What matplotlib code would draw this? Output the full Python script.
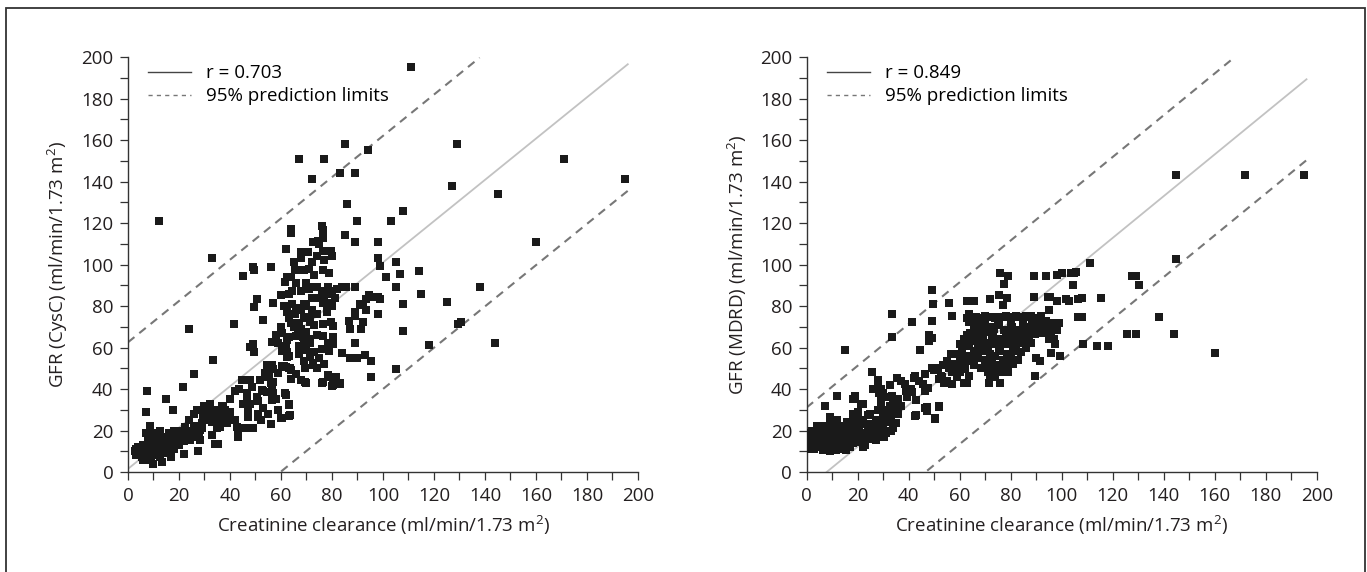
import numpy as np
import matplotlib
matplotlib.use('Agg')
import matplotlib.pyplot as plt
from matplotlib.lines import Line2D
from matplotlib.patches import Rectangle

plt.rcParams['font.family'] = ['Open Sans', 'DejaVu Sans']
plt.rcParams['mathtext.default'] = 'regular'

# --- data (creatinine clearance, GFR) ---
cysc_pts = np.array([
    (111, 195), (12, 121), (129, 158), (171, 151), (195, 141), (145, 134), (127, 138), (108, 126),
    (103, 121), (90, 121), (160, 111), (138, 89), (125, 82), (115, 86), (114, 97), (144, 62),
    (118, 61), (129.5, 71.5), (130.5, 72.5), (105, 49.5), (108, 81), (108, 68), (105, 101),
    (106.5, 95.5), (105, 89), (101, 94), (99, 99.5), (98, 103), (98, 111), (98, 76),
    (94, 155), (89, 144), (85, 158), (83, 144), (77, 151), (67, 151), (72, 141), (86, 129),
    (85, 114), (89, 111),
    (33, 103), (24, 69), (41.5, 71.5), (26, 47), (7, 29), (7.5, 39), (15, 35), (17.5, 30),
    (21.5, 41), (22, 8.5), (27.5, 10), (17, 7), (43, 17), (33.5, 54), (34, 13.5), (35.5, 13.5),
    (51, 26.5), (51, 34), (46.5, 21), (56, 23), (60, 26), (63, 27), (62, 37), (63, 32.5),
    (95.5, 46), (95.5, 53.5), (93, 56.5), (90, 55), (87, 55), (84, 57.5), (83, 42.5), (80, 41.5),
    (78.5, 46), (76, 43), (70, 43), (68, 44.5),
    (89, 62), (91.5, 69), (92, 72.5), (89, 75), (86.5, 73), (87, 69), (89, 77),
    (92, 80.5), (93.5, 83.5), (96, 84.5), (98, 84.5), (99, 83.5), (94.5, 85.5), (93.5, 78), (91, 81),
    (84, 89), (85.5, 89), (89, 89),
    (78.5, 89), (76, 87), (78.5, 86), (76.5, 81.5), (79, 81.5), (80, 80), (78, 77), (79.5, 72.5),
    (80.5, 70.5),
    (76.5, 106.5), (79.5, 106.5), (75, 110), (76.5, 113), (76.5, 116.5), (76, 118.5), (74.5, 111.5),
    (72.5, 111), (70.5, 106), (68, 106), (67, 97.5), (69, 97.5), (76.5, 97.5), (79, 96), (64, 115),
    (64, 117), (62, 107.5),
    (56, 99), (49, 99), (49.5, 97.5), (45, 94.5), (50.5, 83.5), (49.5, 79.5), (53, 73.5),
    (57, 81.5), (60, 85.5), (61.5, 91.5), (62.5, 94), (64, 94), (65.5, 97.5), (64.5, 87), (68, 87),
    (71, 88), (71.5, 89), (74, 89), (64.5, 81), (69, 81), (65.5, 76), (62.5, 77), (63, 74), (64, 72),
    (69, 74), (71, 74.5), (71.5, 72.5), (68, 69), (66.5, 68.5), (66, 65.5), (63, 65), (70, 67.5),
    (71, 64), (71.5, 62), (69, 61.5), (67, 60.5), (62, 60.5), (60.5, 58.5), (63, 56), (67, 57),
    (69, 53.5), (69.5, 50), (72.5, 51.5), (60.5, 51), (62, 50.5), (63.5, 50), (56.5, 51.5),
    (76, 59.5), (78.5, 62), (80.5, 61.5), (79, 58.5), (76.5, 71.5), (76.5, 65.5), (80.5, 65), (74, 66),
    (2.7, 10.3), (4, 9), (5.4, 7.3), (6.7, 5.7), (7.3, 9), (9.3, 10.5), (10.6, 12), (11.2, 9),
    (12.5, 7.3), (13.2, 5), (14, 10.5), (15.2, 12), (16.5, 13.7), (17.8, 15.3), (19, 17),
    (19.7, 18.5), (21, 20), (22.4, 21.8), (23.7, 20), (24.3, 15.3), (25, 18.5), (26.3, 17),
    (28.2, 15.3), (28.2, 20.2), (29, 23.4), (29.5, 26.6), (28.2, 29.8), (31.5, 26.6), (32.2, 28.2),
    (32.8, 29.8), (34.8, 28.2), (36, 29.8), (37.4, 31.4), (38, 26.6), (40, 28.2), (41.3, 25),
    (42.6, 21.8), (43.3, 18.5), (36, 21.8), (34.8, 25), (38.7, 23.4),
    (3, 8), (4, 12), (5, 10), (6, 6), (8, 12), (8, 7), (9, 14), (10, 8), (11, 14), (12, 11),
    (13, 13), (14, 15), (15, 14), (16, 16), (18, 18), (20, 16), (21, 18), (22, 15), (23, 17),
    (7.2, 18.7), (8.7, 22.2), (10, 18.7), (12.6, 19.9), (10, 15), (13.5, 14.3), (10, 4),
    (30, 30), (30, 32), (32, 33), (33, 24), (35, 27), (36, 25), (37, 32), (38, 30), (39, 27),
    (40, 29), (42, 25), (44, 21), (29, 21), (28, 18), (26, 22), (35, 21), (33, 18),
    (46.5, 38), (48.5, 41), (46.5, 34.5), (47, 30.5), (45, 33), (50.5, 36.3), (52.4, 39.5),
    (54.4, 38.7), (56.4, 41), (57, 38), (56.4, 34.7), (55, 28.2), (51, 28.2), (47.2, 26.6),
    (44.6, 44.4), (48, 44.4), (53.7, 47.6), (55, 46), (57, 43.6), (59, 47.6), (61, 51), (63, 50),
    (64, 49), (61.6, 38), (63, 33), (63.5, 27.4), (60.3, 25.8), (60.3, 66.8), (62.3, 63.6),
    (61, 58.8), (62.3, 58), (62.3, 55.5), (68.8, 65), (69.4, 62), (70, 58.8), (71.4, 55.5),
    (72.7, 52.3), (68, 44.4), (69.4, 43.6), (76.4, 43.6), (78.4, 46.8), (81.4, 46), (83, 42.8),
    (80.5, 42),
    (47.7, 60.4), (49.4, 57.7), (48.9, 61.6), (51.8, 44.5), (53.8, 47.5), (55.2, 46.3), (56, 43.1),
    (56.6, 40.7), (43.6, 40.1), (45, 44.5), (52.8, 38.9), (56.9, 49.8), (54.7, 51.6), (56.6, 62.5),
    (65, 70), (67, 72), (66, 79), (68, 78), (70, 80), (72, 78), (73, 71), (74, 76), (75, 84),
    (77, 84), (78, 80), (80, 87), (81, 84), (82, 88), (72, 84), (70, 91), (66, 91), (65, 101),
    (68, 103), (72, 101), (74, 104), (77, 102), (80, 104), (73, 95), (71, 98), (63, 86), (61, 80),
    (59, 62), (58, 66), (60, 70), (73, 58), (75, 55), (77, 52), (74, 50), (64, 45), (66, 47),
    (58, 35), (59, 30), (53, 31), (52, 25), (49, 21), (48, 33), (40, 35), (42, 39), (24, 25),
    (26, 28), (30, 25), (27, 30), (22, 18), (20, 13), (18, 11), (15, 9), (9, 6), (6, 13), (5, 12),
    (4, 8), (3, 11), (7, 11), (8, 16), (11, 10), (12, 16), (14, 17), (16, 19), (18, 20), (19, 14),
])

mdrd_pts = np.array([
    (145, 143), (172, 143), (195, 143), (145, 102.5), (160, 57.5), (144, 66.5), (138, 74.5),
    (130.5, 90), (129, 94.5), (127.5, 94.5), (125.5, 66.5), (129, 66.5),
    (111, 100.5), (115.5, 84), (114, 60.5), (118, 60.5), (108.5, 61.5),
    (105, 96), (103.5, 96), (105.5, 96.5), (104.5, 90), (100, 96), (98, 95), (94, 94.5), (89, 94.5),
    (79, 94.5), (76, 96),
    (101.5, 83.5), (103, 82.5), (106.5, 83.5), (108, 84), (106.5, 74.5), (108, 74.5), (99.5, 56),
    (99, 72), (98, 68.5), (96, 68.5), (97.5, 61.5), (96, 57.5), (95.5, 84.5), (94.5, 84.5),
    (98, 82.5), (89, 84.5), (89.5, 46.5), (90, 55), (91.5, 53.5), (95, 78),
    (15, 59), (33.5, 76), (33.5, 65), (41.5, 72.5), (44.5, 59), (49, 87.5), (49.5, 81), (56, 81.5),
    (57, 75), (49, 73), (48, 66), (49, 64.5), (48, 63), (52, 32), (50.5, 26), (47, 31.5), (43, 27.5),
    (43, 34.5), (41.5, 38.5), (42.5, 46.5), (46.5, 47), (49, 50), (51.5, 50), (52.5, 46.5),
    (53.5, 51.5), (55, 53.5), (56.5, 57), (57, 42.5), (59, 50), (60, 48), (61.5, 43), (63, 43),
    (71.5, 43), (76, 43), (72, 46.5), (73.5, 50), (76, 51.5), (77, 54), (78.5, 57), (81, 58.5),
    (79, 61.5), (82.5, 62), (85.5, 62), (87, 65.5), (89.5, 66.5), (91, 69), (92.5, 72.5), (88.5, 72.5),
    (86, 74.5), (83.5, 74.5), (81, 74.5), (78.5, 74.5), (75.5, 74.5), (72.5, 74.5), (70.5, 74.5),
    (69, 72.5), (66.5, 74.5), (63.5, 76), (63.5, 72.5), (65.5, 69), (69, 69), (70.5, 67.5),
    (73.5, 69), (75.5, 71), (77.5, 68.5), (80.5, 70), (83.5, 68.5), (82.5, 65.5), (75, 64),
    (72.5, 64), (70.5, 62), (68, 64), (66.5, 65.5), (64.5, 66.5), (63, 65.5), (61.5, 64), (60, 61.5),
    (62, 60.5), (63.5, 60.5), (65.5, 58.5), (62.5, 56), (63.5, 53.5), (65.5, 51.5), (68.5, 50),
    (70.5, 51.5), (72.5, 54), (74, 56), (75.5, 58.5), (73.5, 61.5), (69, 58.5), (63.5, 46.5), (62, 49.5),
    (63, 82.5), (65.5, 82.5), (72, 83.5), (75.5, 85.5), (78.5, 84), (77, 80.5), (77.5, 90.5),
    (63, 74), (66, 74), (68, 74), (70, 75), (74, 74), (76, 74.5), (78, 75), (80, 74.5), (82, 75),
    (84, 74.5), (86, 75), (88, 75), (90, 74), (92, 75), (94, 73), (95, 71), (96, 72), (90, 71),
    (85, 71), (80, 71), (75, 71), (70, 71), (66, 71),
    (2, 12), (2.5, 17), (4, 22), (5, 14.5), (6.5, 10.5), (8, 17), (9, 23.5), (9, 26.5), (7, 32),
    (10.5, 14), (11.5, 10.5), (12.5, 17), (13, 22), (14.5, 14.5), (15.5, 10.5), (16, 19.5),
    (17, 23.5), (18, 28), (19, 36.5), (17.5, 16), (19.5, 14.5), (20.5, 20), (21.5, 33), (22, 25),
    (22.5, 17), (24, 27.5), (24.5, 17), (25.5, 48), (26, 21), (27, 15.5), (28, 44.5), (28.5, 38),
    (29, 30), (30, 22.5), (30.5, 17), (32, 25), (32.5, 32), (12, 36.5), (32.5, 42), (33.5, 36.5),
    (34.5, 30), (35, 23.5), (35.5, 45.5), (37, 44), (38.5, 42.5), (39, 39), (39.5, 36), (41, 40),
    (42, 45.5), (43, 34.5), (42.5, 27), (44, 44), (45.5, 42.5), (46.5, 39), (47.5, 40.5), (46.5, 31),
    (47, 29.5), (50.5, 25.5), (52, 31.5),
    (2, 14), (3, 13), (4, 16), (4, 19), (5, 12), (6, 17), (6, 22), (8, 14), (8, 11), (9, 15),
    (10, 12), (10, 18), (11, 20), (12, 14), (13, 12), (14, 11), (14, 18), (15, 20), (16, 13),
    (17, 12), (18, 20), (19, 22), (20, 18), (21, 16), (22, 12), (23, 13), (24, 19), (25, 17),
    (26, 16), (27, 18), (28, 19), (23, 23), (20, 25), (18, 26), (12, 25), (6, 20), (5, 22),
    (4, 18), (3, 17),
    (25, 23), (27, 25), (28, 30), (29, 33), (30, 27), (31, 36), (32, 30), (33, 24), (34, 33),
    (35, 31), (36, 35), (37, 32), (36, 28), (34, 21), (30, 24), (33, 20), (25, 28), (22, 33),
    (20, 29), (18, 35), (30, 38), (29, 40), (28, 43), (26, 40),
    (50, 49), (52, 45), (53, 46), (55, 53), (56, 50), (57, 48), (58, 52), (59, 46), (60, 55),
    (60, 50), (55, 44), (54, 43), (58, 57), (60, 57), (61, 60), (62, 64), (63, 66), (64, 67),
    (63, 62), (62, 61),
    (61, 53), (64, 55), (66, 57), (67, 62), (68, 60), (69, 64), (71, 60), (72, 57), (73, 65),
    (74, 63), (76, 60), (77, 62), (78, 65), (79, 67), (80, 63), (81, 66), (82, 60), (83, 63),
    (84, 66), (85, 68), (86, 64), (87, 70), (88, 67), (89, 69), (90, 67), (91, 73), (92, 70),
    (93, 67), (94, 70), (95, 64), (96, 66), (97, 64), (80, 55), (81, 52), (78, 52), (76, 48),
    (74, 46), (79, 48), (83, 54), (84, 58), (86, 60), (88, 62), (72, 70), (70, 72), (68, 66),
    (66, 68), (65, 63), (67, 55), (70, 54), (71, 48), (73, 47),
    (1, 11), (1, 15), (1, 19), (2, 20), (3, 11), (5, 18), (7, 13), (7, 19), (8, 21), (9, 10),
    (11, 11), (11, 17), (12, 22), (13, 15), (14, 21), (15, 16), (16, 24), (17, 20), (18, 14),
    (19, 18), (20, 21), (21, 23), (22, 19), (24, 22), (26, 19), (27, 22), (29, 20), (31, 19),
    (33, 27), (29, 36), (31, 30),
])

# fitted line and 95% prediction limits: (intercept, slope) per panel
cysc_fit = (1.5, 0.995)
cysc_limit = 61
cysc_xrange = (0, 196)
mdrd_fit = (-7.9, 1.006)
mdrd_limit = 39
mdrd_xrange = (0, 196)

r_labels = ['r = 0.703', 'r = 0.849']
y_labels = ['GFR (CysC) (ml/min/1.73 m$^2$)', 'GFR (MDRD) (ml/min/1.73 m$^2$)']
x_label = 'Creatinine clearance (ml/min/1.73 m$^2$)'

FS = 13.5


def draw_panel(ax, pts, fit, limit, xrange, r_label, y_label):
    b, m = fit
    xs = np.linspace(xrange[0], xrange[1], 200)
    fit_y = b + m * xs
    keep = fit_y >= 0
    ax.plot(xs[keep], fit_y[keep], color='#c2c2c2', lw=1.3, zorder=1)
    for sign in (1, -1):
        ly = fit_y + sign * limit
        keep = (ly >= 0) & (ly <= 200)
        ax.plot(xs[keep], ly[keep], color='#777777', lw=1.5,
                dashes=(4, 3), zorder=1)
    ax.scatter(pts[:, 0], pts[:, 1], marker='s', s=30, color='#1a1a1a',
               linewidths=0, zorder=3)

    ax.set_xlim(0, 200)
    ax.set_ylim(0, 200)
    ax.set_xticks(np.arange(0, 201, 20))
    ax.set_yticks(np.arange(0, 201, 20))
    ax.set_xticks(np.arange(10, 200, 20), minor=True)
    ax.set_yticks(np.arange(10, 200, 20), minor=True)
    for s in ('top', 'right'):
        ax.spines[s].set_visible(False)
    for s in ('left', 'bottom'):
        ax.spines[s].set_color('#333333')
        ax.spines[s].set_linewidth(1.0)
    ax.tick_params(which='both', direction='out', length=5.5, width=0.9,
                   color='#333333', labelsize=FS, labelcolor='#231f20', pad=5)
    ax.set_xlabel(x_label, fontsize=FS, color='#231f20', labelpad=7)
    ax.set_ylabel(y_label, fontsize=FS, color='#231f20', labelpad=8)

    handles = [Line2D([], [], color='#444444', lw=1.0),
               Line2D([], [], color='#777777', lw=1.0, dashes=(3, 3))]
    ax.legend(handles, [r_label, '95% prediction limits'], loc='upper left',
              bbox_to_anchor=(0.04, 0.982), frameon=False, fontsize=FS,
              handlelength=2.3, handletextpad=0.8, labelspacing=0.25,
              borderpad=0, borderaxespad=0)


fig = plt.figure(figsize=(13.67, 5.72), dpi=100)
ax1 = fig.add_axes([0.0936, 0.1748, 0.3731, 0.7255])
ax2 = fig.add_axes([0.5901, 0.1748, 0.3731, 0.7255])

draw_panel(ax1, cysc_pts, cysc_fit, cysc_limit, cysc_xrange, r_labels[0], y_labels[0])
draw_panel(ax2, mdrd_pts, mdrd_fit, mdrd_limit, mdrd_xrange, r_labels[1], y_labels[1])

# outer frame (open at the bottom, like the source figure)
fig.patches.append(Rectangle((6 / 1367, -0.05), 1359 / 1367, 1.05 - 8 / 572,
                             transform=fig.transFigure, fill=False,
                             edgecolor='#333333', lw=1.3))

fig.savefig('out.png', dpi=100)
plt.close(fig)
